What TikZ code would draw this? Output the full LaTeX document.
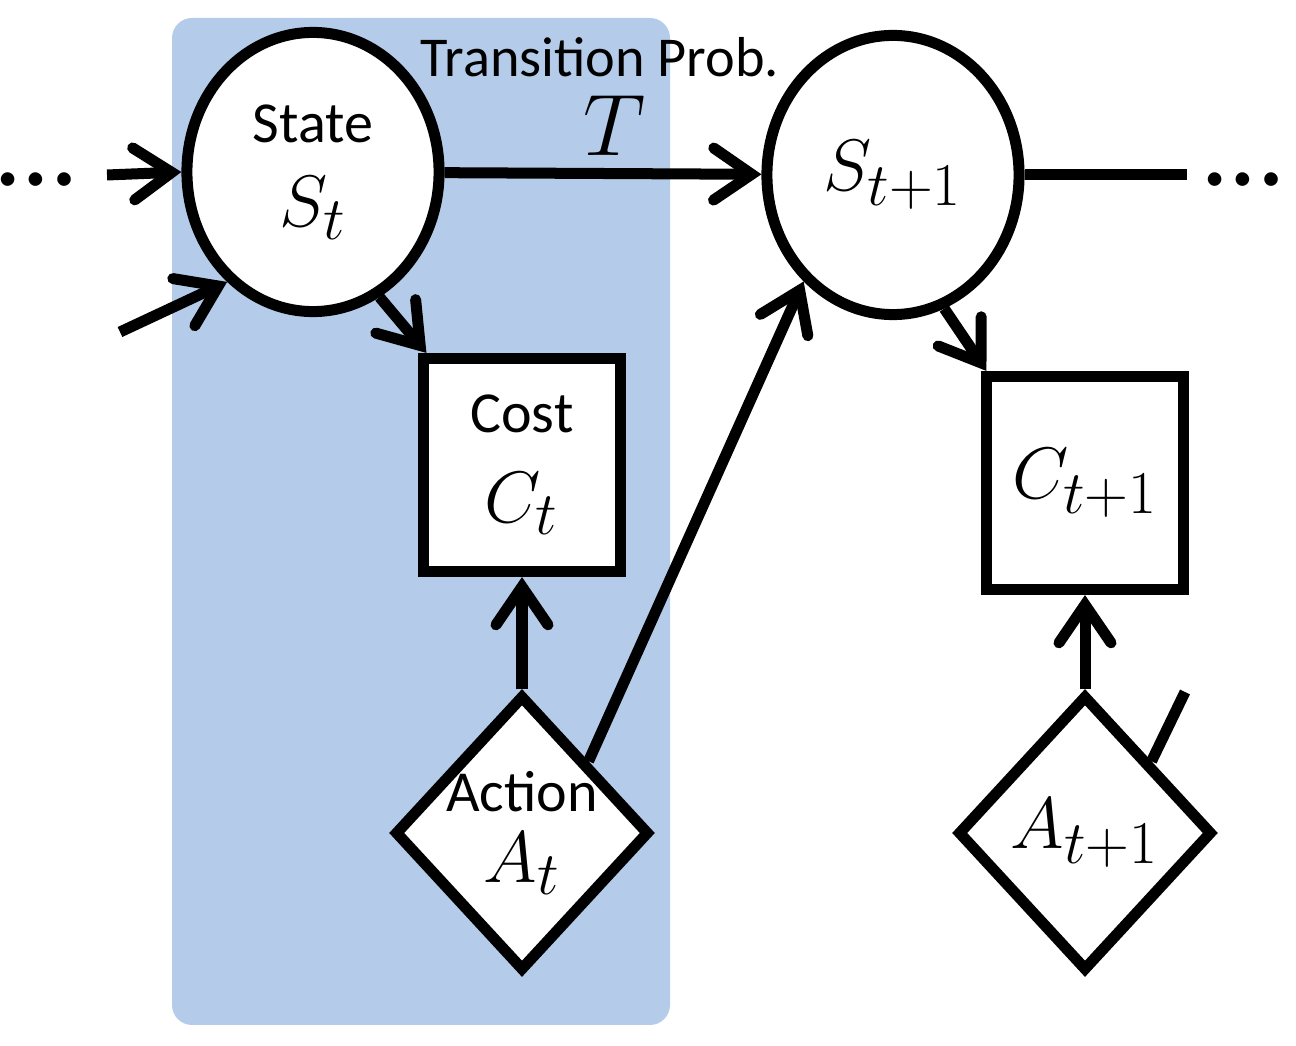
\documentclass[tikz,border=0pt]{standalone}
\usepackage{fontspec}
\setmainfont{Carlito}
\usepackage{tikz}
\usetikzlibrary{shapes.geometric,arrows.meta,positioning}
\definecolor{panelblue}{RGB}{180,204,233}
\DeclareMathSizes{22}{22}{17}{13}
\DeclareMathSizes{26}{26}{19}{15}

\begin{document}
\begin{tikzpicture}[
    x=0.01cm, y=-0.01cm,
    line width=0.11cm,
    >={Straight Barb[length=0.38cm,width=0.52cm,line cap=round]},
    state/.style={ellipse, draw, fill=white, minimum width=2.52cm, minimum height=2.79cm, align=center, inner sep=0pt, font=\fontsize{16.5}{24}\selectfont},
    cost/.style={rectangle, draw, fill=white, minimum width=1.96cm, minimum height=2.13cm, align=center, inner sep=0pt, font=\fontsize{16.5}{25.5}\selectfont},
    action/.style={diamond, draw, fill=white, minimum width=2.55cm, minimum height=2.76cm, align=center, inner sep=-6pt, font=\fontsize{16.5}{24}\selectfont},
    property/.style={->},
    dots/.style={font=\fontsize{32}{32}\selectfont, anchor=base, inner sep=0pt}
]
    \useasboundingbox (0,0) rectangle (1296,1046);

    % Time slice t
    \fill[panelblue, rounded corners=0.2cm] (172,18) rectangle (670,1025);

    % Step t
    \node[state] (st) at (313,172) {State\\{\fontsize{22}{24}\selectfont$S_t$}};
    \node[cost] (cost) at (522,465) {Cost\\{\fontsize{22}{24}\selectfont$C_t$}};
    \node[action] (act) at (522,833) {Action\\[-4pt]{\fontsize{22}{24}\selectfont$A_t$}};

    % Step t+1
    \node[state] (snext) at (893,175) {{\fontsize{22}{24}\selectfont$S_{t+1}$}};
    \node[cost] (cnext) at (1085,483) {{\fontsize{22}{24}\selectfont$C_{t+1}$}};
    \node[action] (anext) at (1085,833) {{\fontsize{22}{24}\selectfont$A_{t+1}$}};

    % Loose ends
    \node[dots] (ldots) at (36,186) {…};
    \node[dots] (rdots) at (1243,186) {…};
    \coordinate (in1) at (107,175);
    \coordinate (in2) at (120,332);
    \coordinate (out1) at (1187,175);
    \coordinate (stub) at (1185,692);

    % Relationships
    \draw[property] (in1) -- (st.west);
    \draw[property] (in2) -- (st.232);
    \draw[property] (st.298) -- ([xshift=0.08cm]cost.north west);
    \draw[property] (st) -- (snext);
    \draw[property] (act) -- (cost);
    \draw[property] (act.north east) -- (snext.230);
    \draw[property] (snext.291) -- ([xshift=0.05cm]cnext.north west);
    \draw[property] (anext) -- (cnext);
    \draw (snext) -- (out1);
    \draw (anext.north east) -- (stub);

    % Transition label
    \node[font=\fontsize{16}{20}\selectfont] (tlabel) at (600,57) {Transition Prob.};
    \node[font=\fontsize{26}{28}\selectfont] (tsym) at (615,126) {$T$};
\end{tikzpicture}
\end{document}
